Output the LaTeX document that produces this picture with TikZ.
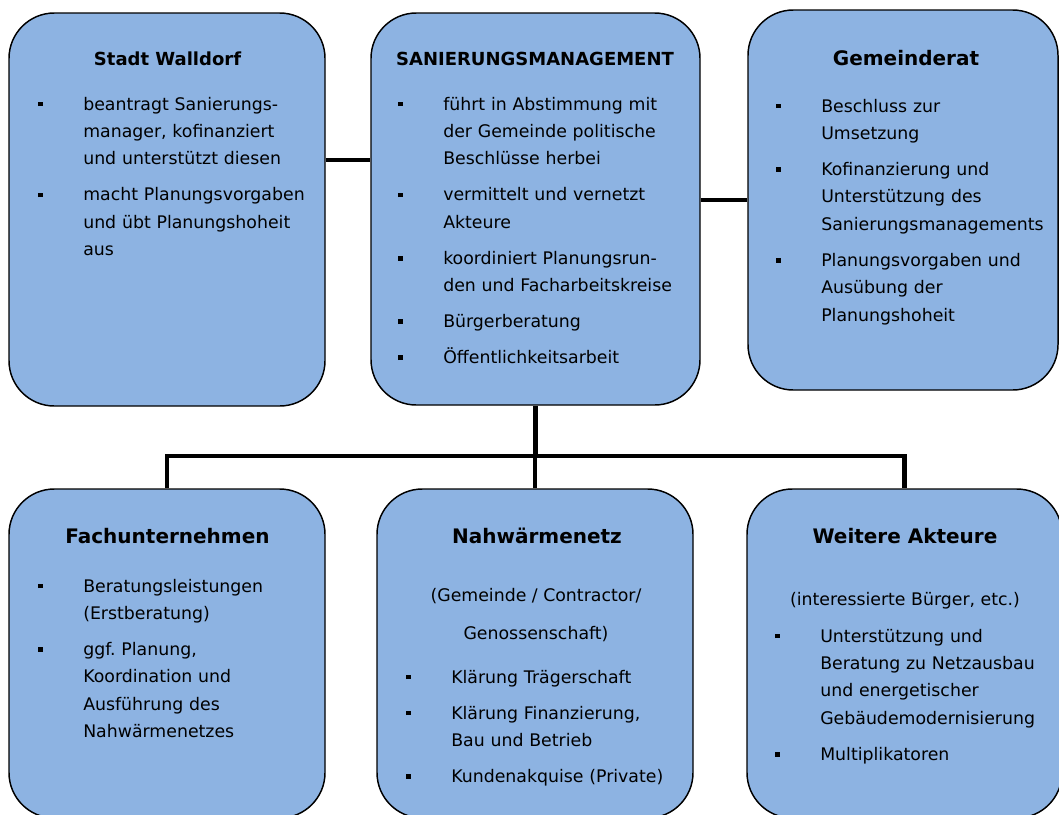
\documentclass[tikz,border=0pt]{standalone}
\usepackage{fontspec}
\setmainfont{DejaVu Sans}
\definecolor{boxblue}{RGB}{141,179,226}
\newcommand\bulmark{\makebox[33.75pt][l]{\rule[2.9pt]{3.4pt}{3.4pt}}}
\newcommand\bitem{\noindent\hangindent=33.75pt\hangafter=1\bulmark\ignorespaces}
\newcommand\isep{\par\vspace{6.4pt}}
\newcommand\lstsetup{\raggedright\frenchspacing\let\\\newline}
\begin{document}
\begin{tikzpicture}[x=0.75pt,y=-0.75pt,
  box/.style={draw=black, line width=1.1pt, fill=boxblue, rounded corners=34pt, inner sep=0pt},
  conn/.style={line width=3.4pt, line join=miter},
  ttl/.style={anchor=base, inner sep=0pt, font=\bfseries\fontsize{13.5}{16}\selectfont},
  bigttl/.style={anchor=base, inner sep=0pt, font=\bfseries\fontsize{15}{18}\selectfont},
  lst/.style={anchor=base west, inner sep=0pt, text width=250pt, font=\fontsize{13}{20.6}\selectfont},
  ctr/.style={anchor=base, inner sep=0pt, font=\fontsize{13}{20.6}\selectfont}]
\useasboundingbox (0,0) rectangle (1059,814);
\fill[white] (0,0) rectangle (1059,814);

% coordinates for connector levels
\coordinate (j1) at (0,160);
\coordinate (j2) at (0,200);
\coordinate (bus) at (0,456);

% boxes
\node[box, minimum width=237pt, minimum height=294.75pt] (b1) at (167,209.5) {};
\node[box, minimum width=246.75pt, minimum height=294pt] (b2) at (535.5,209) {};
\node[box, minimum width=232.5pt, minimum height=285pt] (b3) at (903,200) {};
\node[box, minimum width=237pt, minimum height=246.75pt] (b4) at (167,653.5) {};
\node[box, minimum width=237pt, minimum height=246.75pt] (b5) at (535,653.5) {};
\node[box, minimum width=236.25pt, minimum height=246.75pt] (b6) at (904.5,653.5) {};

% connectors
\draw[conn] (b1.east |- j1) -- (b2.west |- j1);
\draw[conn] (b2.east |- j2) -- (b3.west |- j2);
\draw[conn] (b2.south) -- (b2.south |- bus);
\draw[conn] (b4.north) -- (b4.north |- bus) -- (b6.north |- bus) -- (b6.north);
\draw[conn] (b5.north) -- (b5.north |- bus);

% titles
\node[ttl] (t1) at (167.5,65) {Stadt Walldorf};
\node[ttl] (t2) at (535,65) {SANIERUNGSMANAGEMENT};
\node[bigttl] (t3) at (906,65) {Gemeinderat};
\node[bigttl] (t4) at (167.5,543) {Fachunternehmen};
\node[bigttl] (t5) at (537,543) {Nahwärmenetz};
\node[bigttl] (t6) at (905,543) {Weitere Akteure};

% lists
\node[lst] (l1) at (38,110) {\lstsetup
\bitem beantragt Sanierungs-\\manager, kofinanziert\\und unterstützt diesen\isep
\bitem macht Planungsvorgaben\\und übt Planungshoheit\\aus\par};

\node[lst] (l2) at (398,110) {\lstsetup
\bitem führt in Abstimmung mit\\der Gemeinde politische\\Beschlüsse herbei\isep
\bitem vermittelt und vernetzt\\Akteure\isep
\bitem koordiniert Planungsrun-\\den und Facharbeitskreise\isep
\bitem Bürgerberatung\isep
\bitem Öffentlichkeitsarbeit\par};

\node[lst] (l3) at (776,112) {\lstsetup
\bitem Beschluss zur\\Umsetzung\isep
\bitem Kofinanzierung und\\Unterstützung des\\Sanierungsmanagements\isep
\bitem Planungsvorgaben und\\Ausübung der\\Planungshoheit\par};

\node[lst] (l4) at (38,592) {\lstsetup
\bitem Beratungsleistungen\\(Erstberatung)\isep
\bitem ggf. Planung,\\Koordination und\\Ausführung des\\Nahwärmenetzes\par};

\node[ctr] (s5a) at (536,601) {(Gemeinde / Contractor/};
\node[ctr] (s5b) at (536,639) {Genossenschaft)};
\node[lst] (l5) at (406,683) {\lstsetup
\bitem Klärung Trägerschaft\isep
\bitem Klärung Finanzierung,\\Bau und Betrieb\isep
\bitem Kundenakquise (Private)\par};

\node[ctr] (s6) at (905,605) {(interessierte Bürger, etc.)};
\node[lst] (l6) at (775,642) {\lstsetup
\bitem Unterstützung und\\Beratung zu Netzausbau\\und energetischer\\Gebäudemodernisierung\isep
\bitem Multiplikatoren\par};
\end{tikzpicture}
\end{document}
